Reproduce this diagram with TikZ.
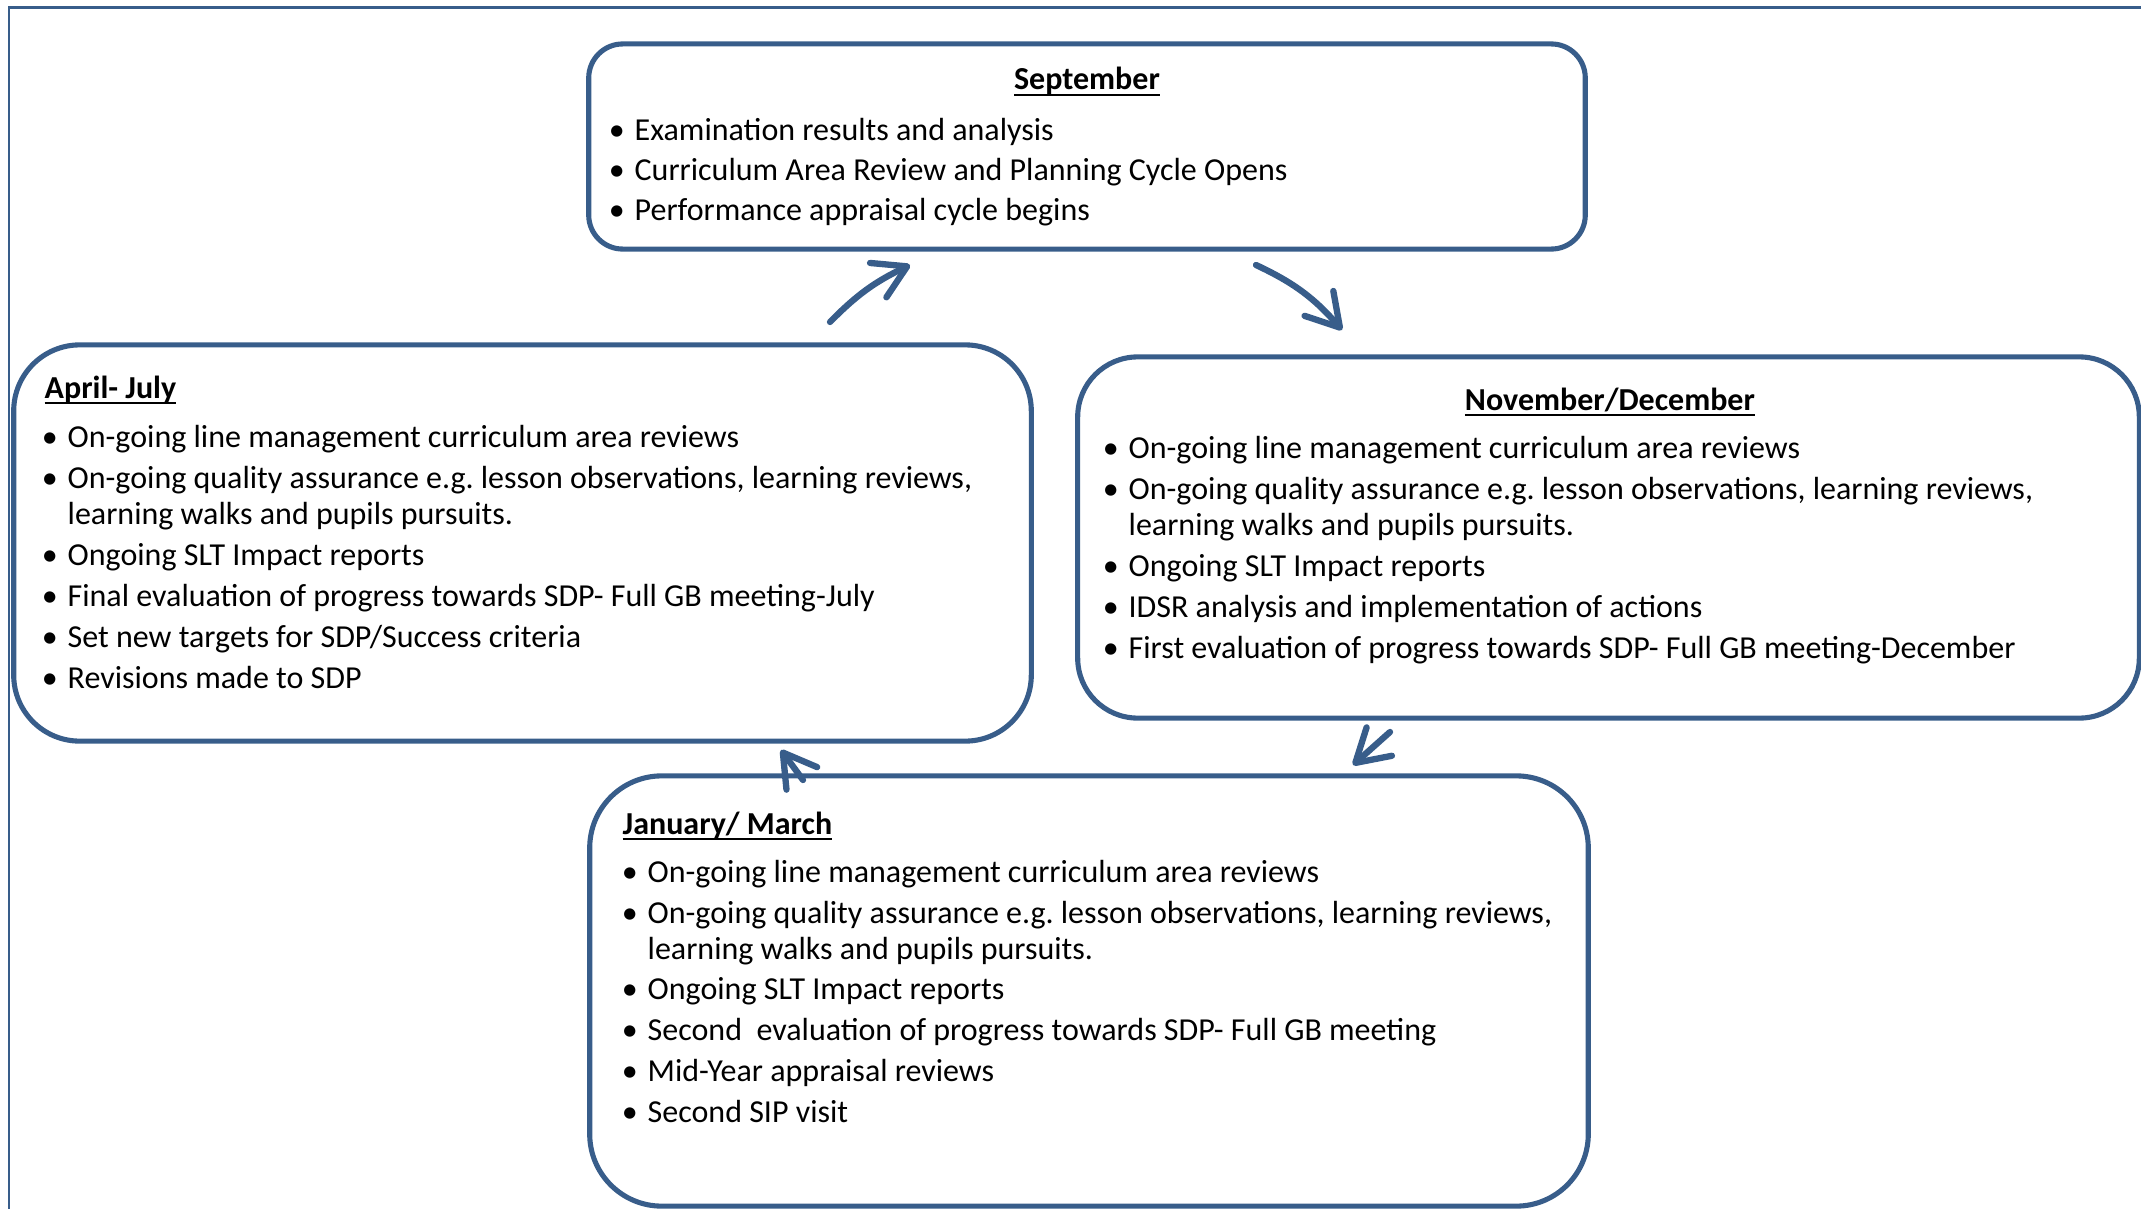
\documentclass[tikz,border=0pt]{standalone}
\usepackage{fontspec}
\setmainfont{Carlito}
\usetikzlibrary{arrows.meta}
\frenchspacing

\definecolor{cycleblue}{RGB}{56,93,138}
\newcommand\bul{\llap{\textbullet\hspace{2.8pt}}}
\newcommand\monthhead[1]{\setbox0\hbox{\bfseries #1}\rlap{\rule[-1.8pt]{\wd0}{0.65pt}}\box0}

\tikzset{
    monthbox/.style={draw=cycleblue, line width=1.45pt, inner sep=0pt},
    itemline/.style={anchor=base west, inner sep=0pt, font=\fontsize{9.1}{11}\selectfont},
    cyclearrow/.style={draw=cycleblue, line width=1.8pt, line cap=round,
        -{Straight Barb[length=0.32cm, width=0.38cm, line cap=round, line join=round]}}
}

\begin{document}
\begin{tikzpicture}[x=0.01cm, y=-0.01cm]
    \useasboundingbox (0,0) rectangle (2141,1209);
    \draw[cycleblue, line width=0.6pt] (9,1209) -- (9,7.5) -- (2141,7.5);

    \node[monthbox, minimum width=9.96cm, minimum height=2.05cm, rounded corners=0.34cm] (sep) at (1087,146.5) {};
    \node[monthbox, minimum width=10.17cm, minimum height=3.96cm, rounded corners=0.66cm] (aprjul) at (522.5,543) {};
    \node[monthbox, minimum width=10.61cm, minimum height=3.61cm, rounded corners=0.6cm] (novdec) at (1608.5,537.5) {};
    \node[monthbox, minimum width=9.98cm, minimum height=4.30cm, rounded corners=0.72cm] (janmar) at (1089,991) {};

    \node[itemline, anchor=base] (sep-title) at (1087,90) {\monthhead{September}};
    \foreach \y/\t [count=\i] in {140/\bul Examination results and analysis,
                                   180/\bul Curriculum Area Review and Planning Cycle Opens,
                                   220/\bul Performance appraisal cycle begins}
        \node[itemline] (sep-\i) at (634,\y) {\t};

    \node[itemline] (apr-title) at (44,398) {\monthhead{April- July}};
    \foreach \y/\t [count=\i] in {447/\bul On-going line management curriculum area reviews,
                                   488/{\bul On-going quality assurance e.g. lesson observations, learning reviews,},
                                   524/learning walks and pupils pursuits.,
                                   565/\bul Ongoing SLT Impact reports,
                                   606/\bul Final evaluation of progress towards SDP- Full GB meeting-July,
                                   647/{\bul Set new targets for SDP/Success criteria},
                                   688/\bul Revisions made to SDP}
        \node[itemline] (apr-\i) at (67,\y) {\t};

    \node[itemline, anchor=base] (nov-title) at (1610,410) {\monthhead{November/December}};
    \foreach \y/\t [count=\i] in {458/\bul On-going line management curriculum area reviews,
                                   499/{\bul On-going quality assurance e.g. lesson observations, learning reviews,},
                                   535/learning walks and pupils pursuits.,
                                   576/\bul Ongoing SLT Impact reports,
                                   617/\bul IDSR analysis and implementation of actions,
                                   658/\bul First evaluation of progress towards SDP- Full GB meeting-December}
        \node[itemline] (nov-\i) at (1128,\y) {\t};

    \node[itemline] (jan-title) at (622,834) {\monthhead{January/ March}};
    \foreach \y/\t [count=\i] in {882/\bul On-going line management curriculum area reviews,
                                   923/{\bul On-going quality assurance e.g. lesson observations, learning reviews,},
                                   959/learning walks and pupils pursuits.,
                                   999/\bul Ongoing SLT Impact reports,
                                   1040/\bul Second~ evaluation of progress towards SDP- Full GB meeting,
                                   1081/\bul Mid-Year appraisal reviews,
                                   1122/\bul Second SIP visit}
        \node[itemline] (jan-\i) at (647,\y) {\t};

    % arrow ends between the boxes
    \coordinate (a1s) at (830,322);
    \coordinate (a1e) at (910,265);
    \coordinate (a2s) at (1256,265);
    \coordinate (a2e) at (1342,330);
    \coordinate (a3s) at (1390,732);
    \coordinate (a3e) at (1353,765);
    \coordinate (a4s) at (803,780);
    \coordinate (a4e) at (781,750);
    \draw[cyclearrow] (a1s) to[bend left=10] (a1e);
    \draw[cyclearrow] (a2s) to[bend left=12] (a2e);
    \draw[cyclearrow] (a3s) -- (a3e);
    \draw[cyclearrow] (a4s) -- (a4e);
\end{tikzpicture}
\end{document}
